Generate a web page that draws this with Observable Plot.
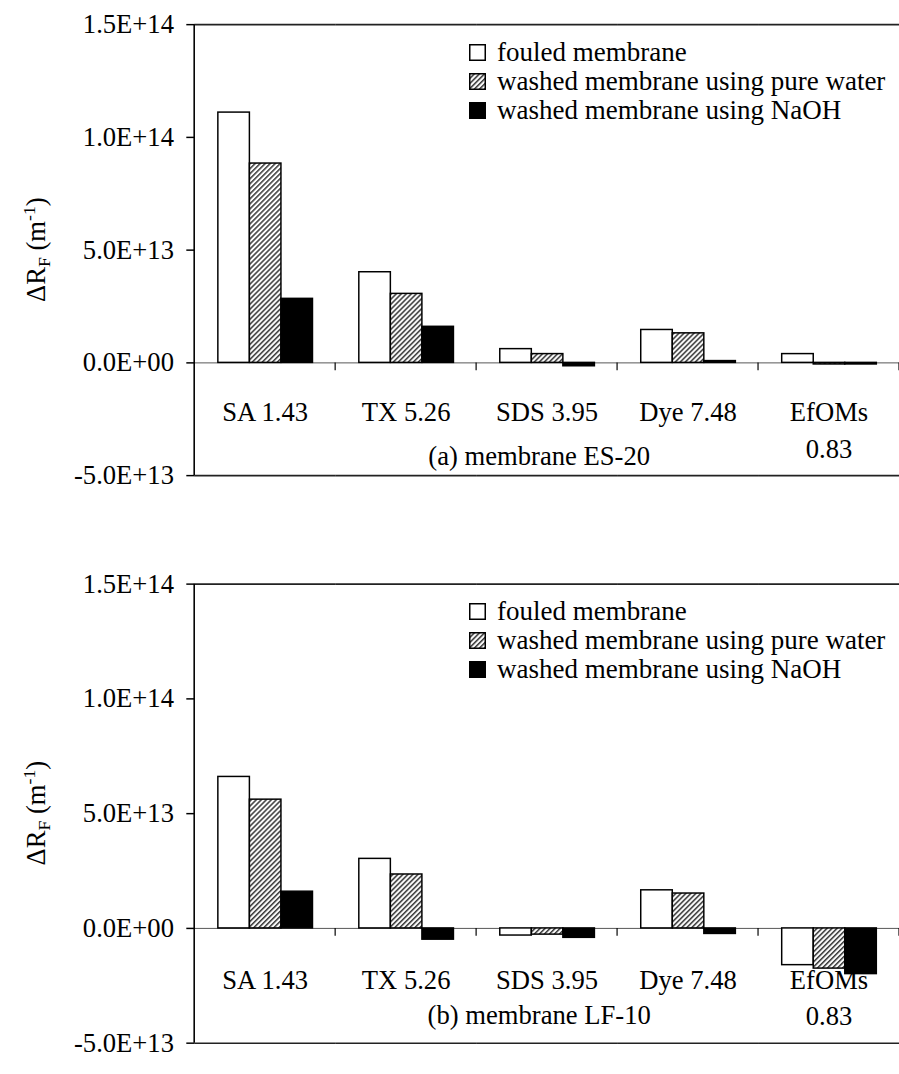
<!DOCTYPE html>
<html>
<head>
<meta charset="utf-8">
<script src="https://cdn.jsdelivr.net/npm/d3@7"></script>
<script src="https://cdn.jsdelivr.net/npm/@observablehq/plot@0.6"></script>
<style>
html, body { margin: 0; padding: 0; background: #fff; overflow: hidden; }
#wrap { position: relative; width: 899px; height: 1074px; overflow: hidden; }
.panel { position: relative; width: 899px; height: 537px; }
.panel svg.chart { display: block; }
.legend { position: absolute; left: 469px; font-family: "Liberation Serif", "Times New Roman", serif; font-size: 27px; color: #000; }
.legend .row { display: flex; align-items: center; height: 29px; white-space: nowrap; }
.legend .row svg { flex: none; margin-right: 11px; }
</style>
</head>
<body>
<svg width="0" height="0" style="position:absolute">
  <defs>
    <pattern id="hatch" patternUnits="userSpaceOnUse" width="3.6" height="3.6" patternTransform="rotate(45)">
      <rect width="3.6" height="3.6" fill="white"></rect>
      <line x1="0.8" y1="0" x2="0.8" y2="3.6" stroke="#333" stroke-width="1.5"></line>
    </pattern>
  </defs>
</svg>
<div id="wrap"></div>
<script>
// ---- data ----
const categories = ["SA 1.43", "TX 5.26", "SDS 3.95", "Dye 7.48", "EfOMs\n0.83"];
const series = ["fouled membrane", "washed membrane using pure water", "washed membrane using NaOH"];
const seriesFills = ["white", "url(#hatch)", "black"];

// (a) membrane ES-20
const fouledES20 = [1.11e14, 4.02e13, 6.1e12, 1.46e13, 3.9e12];
const waterES20  = [8.84e13, 3.06e13, 3.9e12, 1.31e13, -0.7e12];
const naohES20   = [2.84e13, 1.60e13, -1.5e12, 0.8e12, -0.7e12];

// (b) membrane LF-10
const fouledLF10 = [6.60e13, 3.03e13, -3.1e12, 1.66e13, -1.60e13];
const waterLF10  = [5.61e13, 2.35e13, -2.7e12, 1.52e13, -1.75e13];
const naohLF10   = [1.60e13, -4.9e12, -4.1e12, -2.4e12, -1.99e13];

const yTicks = [-5e13, 0, 5e13, 1e14, 1.5e14];
const yTickLabels = ["-5.0E+13", "0.0E+00", "5.0E+13", "1.0E+14", "1.5E+14"];
const panelTitles = ["(a) membrane ES-20", "(b) membrane LF-10"];

const FONT = "Liberation Serif";

function buildPanel(values, title, mt, mb, titleDy) {
  const data = [];
  categories.forEach((c, i) => series.forEach((s, j) => data.push({cat: c, series: s, value: values[j][i]})));
  const chart = Plot.plot({
    width: 912,
    height: 537,
    marginLeft: 196,
    marginRight: 0,
    marginTop: mt,
    marginBottom: mb,
    style: {fontFamily: FONT, fontSize: "27px", color: "black", background: "white", overflow: "visible"},
    fx: {domain: categories, padding: 0, axis: null, label: null},
    x: {domain: series, paddingInner: 0, paddingOuter: 0.73, axis: null},
    y: {domain: [-5e13, 1.5e14], label: null},
    color: {domain: series, range: seriesFills, legend: false},
    marks: [
      Plot.ruleY([0], {stroke: "#555", strokeWidth: 1}),
      Plot.barY(data, {fx: "cat", x: "series", y: "value", fill: "series", stroke: "black", strokeWidth: 1.5}),
      Plot.ruleY([-5e13, 1.5e14], {stroke: "#222", strokeWidth: 1.6}),
      Plot.axisY({
        ticks: yTicks,
        tickFormat: d => yTickLabels[yTicks.indexOf(d)],
        tickSize: 8,
        tickPadding: 13,
        label: null,
        fontSize: 27,
        fontFamily: FONT,
        stroke: "black",
        strokeWidth: 1.5
      }),
      Plot.text(categories, {
        fx: d => d, text: d => d,
        frameAnchor: "bottom", lineAnchor: "top", dy: -81.5, lineHeight: 1.37,
        fontSize: 27, fontFamily: FONT, fill: "black"
      }),
      Plot.text([title], {
        fx: () => categories[2], text: d => d,
        frameAnchor: "bottom", lineAnchor: "middle", dy: titleDy, dx: -8,
        fontSize: 27, fontFamily: FONT, fill: "black"
      })
    ]
  });
  chart.classList.add("chart");

  const y = chart.scale("y");
  const fx = chart.scale("fx");
  const svg = d3.select(chart);

  // left axis line
  const x0 = fx.apply(categories[0]);
  svg.append("line")
    .attr("x1", x0).attr("x2", x0)
    .attr("y1", y.apply(1.5e14)).attr("y2", y.apply(-5e13))
    .attr("stroke", "black").attr("stroke-width", 1.6);

  // y-axis title with subscript and superscript
  const cy = (y.apply(1.5e14) + y.apply(-5e13)) / 2;
  const lab = svg.append("text")
    .attr("transform", `translate(46,${cy}) rotate(-90)`)
    .attr("text-anchor", "middle")
    .attr("font-family", FONT)
    .attr("font-size", 27)
    .attr("fill", "black");
  lab.append("tspan").text("\u0394R");
  lab.append("tspan").attr("font-size", 18).attr("dy", 5).text("F");
  lab.append("tspan").attr("dy", -5).text(" (m");
  lab.append("tspan").attr("font-size", 18).attr("dy", -11).text("-1");
  lab.append("tspan").attr("dy", 11).text(")");

  // category separator ticks below the zero line
  const y0 = y.apply(0);
  const edges = categories.slice(1).map(c => fx.apply(c));
  edges.push(fx.apply(categories[categories.length - 1]) + fx.bandwidth);
  svg.append("g").selectAll("line").data(edges).join("line")
    .attr("x1", d => d).attr("x2", d => d)
    .attr("y1", y0).attr("y2", y0 + 8)
    .attr("stroke", "black").attr("stroke-width", 1.2);

  return chart;
}

function buildLegend(top) {
  const lg = document.createElement("div");
  lg.className = "legend";
  lg.style.top = top + "px";
  series.forEach((s, j) => {
    const row = document.createElement("div");
    row.className = "row";
    row.innerHTML = `<svg width="17" height="17"><rect x="0.75" y="0.75" width="15.5" height="15.5" fill="${seriesFills[j]}" stroke="black" stroke-width="1.5"></rect></svg><span>${s}</span>`;
    lg.appendChild(row);
  });
  return lg;
}

const wrap = document.getElementById("wrap");
const configs = [
  {values: [fouledES20, waterES20, naohES20], title: panelTitles[0], mt: 24.5, mb: 55, titleDy: -19},
  {values: [fouledLF10, waterLF10, naohLF10], title: panelTitles[1], mt: 47.3, mb: 24, titleDy: -28}
];
configs.forEach(cfg => {
  const p = document.createElement("div");
  p.className = "panel";
  p.appendChild(buildPanel(cfg.values, cfg.title, cfg.mt, cfg.mb, cfg.titleDy));
  p.appendChild(buildLegend(cfg.mt + 13));
  wrap.appendChild(p);
});
</script>
</body>
</html>
